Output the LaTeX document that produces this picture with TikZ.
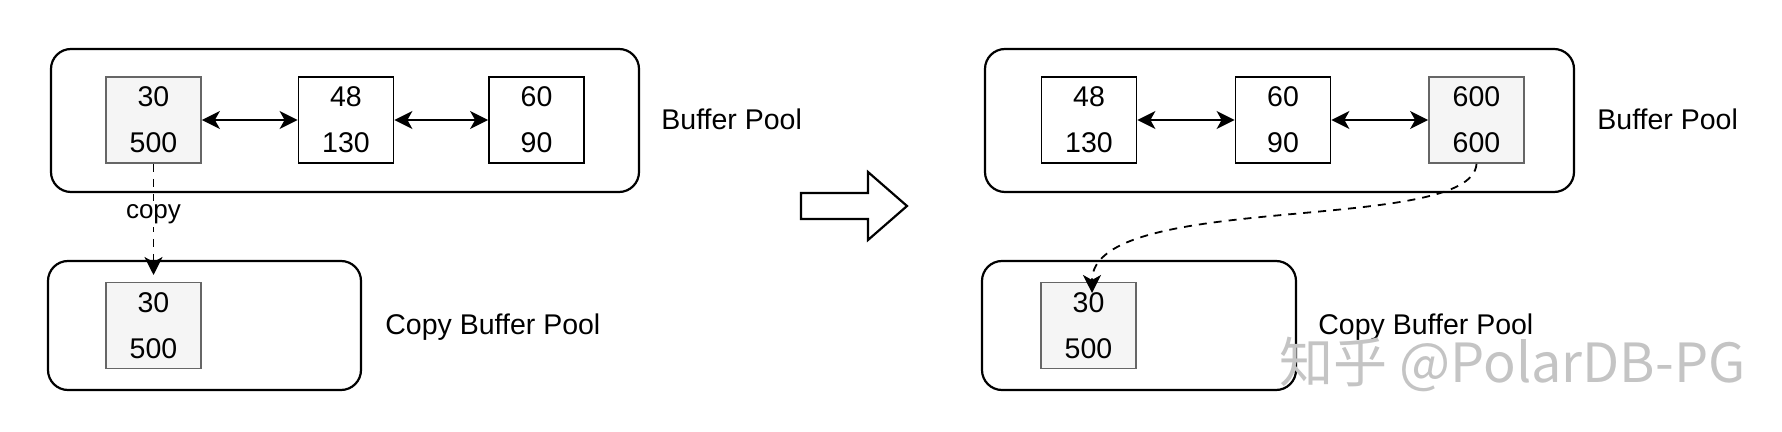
\documentclass[tikz,border=0pt]{standalone}
\usepackage{fontspec}
\setmainfont{Liberation Sans}
\newfontfamily\cjkfont{Noto Sans CJK SC}
\usetikzlibrary{arrows.meta}
\definecolor{cellfill}{HTML}{F5F5F5}
\definecolor{cellline}{HTML}{666666}
\definecolor{wmark}{RGB}{196,196,196}
\tikzset{
  x=0.5pt, y=-0.5pt,
  pool/.style={draw=black, line width=1.1pt, rounded corners=10pt, fill=white},
  cell/.style={draw=black, line width=0.9pt, fill=white, minimum width=47.5pt, minimum height=43pt, inner sep=0pt, align=center, font=\fontsize{14.25}{23}\selectfont},
  graycell/.style={cell, draw=cellline, fill=cellfill},
  lbl/.style={anchor=west, inner sep=0pt, font=\fontsize{14.25}{17}\selectfont},
  tip/.style={Stealth[length=9pt,width=9pt,inset=2.5pt]},
  link/.style={line width=0.9pt, {Stealth[length=9pt,width=9pt,inset=2.5pt]}-{Stealth[length=9pt,width=9pt,inset=2.5pt]}},
  copyarrow/.style={line width=0.9pt, dash pattern=on 4pt off 3.5pt, -{Stealth[length=9pt,width=9pt,inset=2.5pt]}},
}
\begin{document}
\begin{tikzpicture}
\useasboundingbox (0,0) rectangle (1782,432);
% left side
\draw[pool] (51,49) rectangle (639,192);
\node[graycell] (a1) at (153.5,120) {30\\500};
\node[cell] (a2) at (346,120) {48\\130};
\node[cell] (a3) at (536.5,120) {60\\90};
\node[lbl] (bp1) at (661,119) {Buffer Pool};
\draw[link] (a1) -- (a2);
\draw[link] (a2) -- (a3);
\draw[pool] (48,261) rectangle (361,390);
\node[graycell] (c1) at (153.5,325.5) {30\\500};
\node[lbl] (cbp1) at (385,327) {Copy Buffer Pool};
\coordinate (c1top) at (153.5,275);
\draw[copyarrow] (a1.south) -- node[pos=0.45, fill=white, inner sep=1.5pt, font=\fontsize{13}{15}\selectfont] (copylbl) {copy} (c1top);
% big arrow
\draw[line width=1.1pt, fill=white, line join=miter] (801,193) -- (868,193) -- (868,172) -- (907,206) -- (868,240) -- (868,219) -- (801,219) -- cycle;
% right side
\draw[pool] (985,49) rectangle (1574,192);
\node[cell] (b1) at (1089,120) {48\\130};
\node[cell] (b2) at (1283,120) {60\\90};
\node[graycell] (b3) at (1476.5,120) {600\\600};
\node[lbl] (bp2) at (1597,119) {Buffer Pool};
\draw[link] (b1) -- (b2);
\draw[link] (b2) -- (b3);
\draw[pool] (982,261) rectangle (1296,390);
\node[graycell] (d1) at (1088.5,325.5) {30\\500};
\node[lbl] (cbp2) at (1318,327) {Copy Buffer Pool};
\coordinate (d1in) at (1092,293);
\draw[copyarrow] (b3.south) .. controls (1472,235) and (1092,190) .. (d1in);
% watermark
\node[anchor=west, inner sep=0pt, text=wmark, font=\cjkfont\fontsize{27}{30}\selectfont] (wm) at (1279,364) {知乎 @PolarDB-PG};
\end{tikzpicture}
\end{document}
